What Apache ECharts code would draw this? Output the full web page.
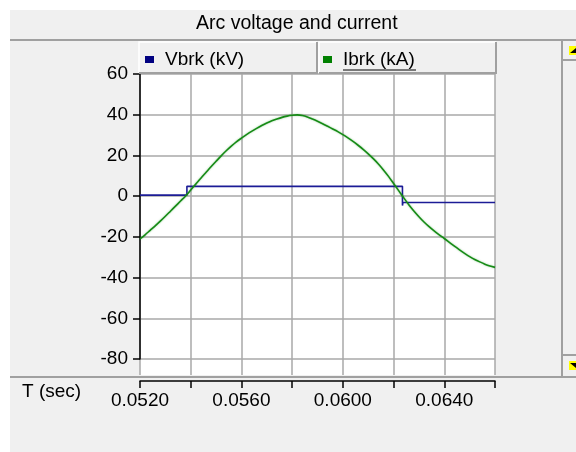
<!DOCTYPE html>
<html>
<head>
<meta charset="utf-8">
<script src="https://cdn.jsdelivr.net/npm/echarts@6/dist/echarts.min.js"></script>
<style>
  html, body { margin: 0; padding: 0; background: #fff; }
  #chart { width: 576px; height: 452px; }
</style>
</head>
<body>
<div id="chart"></div>
<script>
// 曲线数据
var ibrkStart = 0.052;
var ibrkStep = 0.0002;
var ibrkValues = [
  -21.0, -19.0, -16.8, -14.6, -12.3, -9.9, -7.4, -4.9, -2.4, 0.1,
  3.0, 5.9, 8.8, 11.6, 14.4, 17.1, 19.8, 22.3, 24.6, 26.7,
  28.5, 30.2, 31.8, 33.3, 34.7, 35.9, 37.0, 37.9, 38.7, 39.3,
  39.7, 39.9, 39.6, 38.9, 37.9, 36.8, 35.6, 34.3, 33.0, 31.7,
  30.2, 28.6, 26.9, 25.0, 23.0, 20.8, 18.4, 15.8, 12.9, 9.7,
  6.2, 2.7, -0.8, -4.2, -7.3, -10.1, -12.7, -15.0, -17.1, -19.0,
  -20.8, -22.7, -24.6, -26.4, -28.1, -29.7, -31.1, -32.3, -33.4, -34.3,
  -35.0
];
var vbrkTimes = [0.0520, 0.05385, 0.06235, 0.06237, 0.0660];
var vbrkValues = [0.5, 4.8, -4.6, -3.1, -3.1];
var seriesNames = ['Vbrk (kV)', 'Ibrk (kA)'];
var yTicks = { min: -80, max: 60, step: 20 };
var xTicks = { min: 0.052, max: 0.066, step: 0.002 };

var ibrkData = ibrkValues.map(function (v, i) {
  return [+(ibrkStart + i * ibrkStep).toFixed(4), v];
});
var vbrkData = vbrkTimes.map(function (t, i) {
  return [t, vbrkValues[i]];
});

var font = 'Liberation Sans, Arial, sans-serif';
var chart = echarts.init(document.getElementById('chart'));

var option = {
  backgroundColor: '#f0f0f0',
  animation: false,
  title: {
    text: 'Arc voltage and current',
    left: 196,
    top: 14,
    padding: 0,
    textStyle: { fontSize: 19.5, fontWeight: 'normal', color: '#000', fontFamily: font }
  },
  legend: [{
    data: [seriesNames[0]],
    left: 145, top: 50, padding: 0,
    icon: 'rect', itemWidth: 9, itemHeight: 7,
    selectedMode: false,
    textStyle: { fontSize: 19, color: '#000', fontFamily: font, padding: [0, 0, 0, 6] }
  }, {
    data: [seriesNames[1]],
    left: 323, top: 50, padding: 0,
    icon: 'rect', itemWidth: 9, itemHeight: 7,
    selectedMode: false,
    textStyle: { fontSize: 19, color: '#000', fontFamily: font, padding: [0, 0, 0, 6] }
  }],
  grid: [
    // 白色背景 + 竖直网格
    { left: 140, right: 81, top: 73, bottom: 77, show: true, backgroundColor: '#fff', borderWidth: 0 },
    // 数据区
    { left: 140, right: 81, top: 74, bottom: 93 }
  ],
  xAxis: [{
    gridIndex: 0, type: 'value',
    min: xTicks.min, max: xTicks.max, interval: xTicks.step,
    axisLine: { show: false }, axisTick: { show: false }, axisLabel: { show: false },
    splitLine: { show: true, lineStyle: { color: '#a8a8a8', width: 1.5 } }
  }, {
    gridIndex: 1, type: 'value',
    min: xTicks.min, max: xTicks.max, interval: xTicks.step,
    position: 'bottom',
    offset: 22,
    axisLine: { show: true, onZero: false, lineStyle: { color: '#000', width: 1.5 } },
    axisTick: { show: true, length: 7, lineStyle: { color: '#000', width: 1.5 } },
    axisLabel: {
      fontSize: 19, color: '#000', fontFamily: font, margin: 10,
      formatter: function (v) {
        return Math.round(v * 1000) % 4 === 0 ? v.toFixed(4) : '';
      }
    },
    splitLine: { show: false }
  }],
  yAxis: [{
    gridIndex: 0, type: 'value', show: false, min: 0, max: 1
  }, {
    gridIndex: 1, type: 'value',
    min: yTicks.min, max: yTicks.max, interval: yTicks.step,
    axisLine: { show: true, onZero: false, lineStyle: { color: '#000', width: 1.5 } },
    axisTick: { show: true, length: 7, lineStyle: { color: '#000', width: 1.5 } },
    axisLabel: { fontSize: 19, color: '#000', fontFamily: font, margin: 12 },
    splitLine: { show: true, lineStyle: { color: '#a8a8a8', width: 1.5 } }
  }],
  graphic: [
    // 左上白边
    { type: 'rect', shape: { x: 0, y: 0, width: 576, height: 10 }, style: { fill: '#fff' }, z: 1 },
    { type: 'rect', shape: { x: 0, y: 0, width: 10, height: 452 }, style: { fill: '#fff' }, z: 1 },
    // 分隔线
    { type: 'line', shape: { x1: 10, y1: 40, x2: 576, y2: 40 }, style: { stroke: '#a0a0a0', lineWidth: 2 }, z: 1 },
    { type: 'line', shape: { x1: 10, y1: 377, x2: 576, y2: 377 }, style: { stroke: '#a0a0a0', lineWidth: 2 }, z: 1 },
    // 图例框
    { type: 'rect', shape: { x: 139, y: 42, width: 178, height: 31 }, style: { fill: '#f0f0f0' }, z: 3 },
    { type: 'rect', shape: { x: 318, y: 42, width: 178, height: 31 }, style: { fill: '#f0f0f0' }, z: 3 },
    { type: 'polyline', shape: { points: [[139, 73], [139, 42], [317, 42]] }, style: { stroke: '#fff', lineWidth: 1.5, fill: null }, z: 3 },
    { type: 'polyline', shape: { points: [[139, 73], [317, 73], [317, 42]] }, style: { stroke: '#a0a0a0', lineWidth: 2, fill: null }, z: 3 },
    { type: 'polyline', shape: { points: [[319, 73], [319, 42], [496, 42]] }, style: { stroke: '#fff', lineWidth: 1.5, fill: null }, z: 3 },
    { type: 'polyline', shape: { points: [[319, 73], [496, 73], [496, 42]] }, style: { stroke: '#a0a0a0', lineWidth: 2, fill: null }, z: 3 },
    // Ibrk 下划线
    { type: 'line', shape: { x1: 343, y1: 70, x2: 416, y2: 70 }, style: { stroke: '#000', lineWidth: 1 }, z: 6 },
    // 滚动条
    { type: 'line', shape: { x1: 562, y1: 40, x2: 562, y2: 377 }, style: { stroke: '#a0a0a0', lineWidth: 2 }, z: 1 },
    { type: 'line', shape: { x1: 563, y1: 60, x2: 576, y2: 60 }, style: { stroke: '#a0a0a0', lineWidth: 2 }, z: 1 },
    { type: 'line', shape: { x1: 563, y1: 355, x2: 576, y2: 355 }, style: { stroke: '#a0a0a0', lineWidth: 2 }, z: 1 },
    { type: 'rect', shape: { x: 569, y: 46, width: 7, height: 9 }, style: { fill: '#ffff00' }, z: 1 },
    { type: 'polygon', shape: { points: [[570, 53], [576, 53], [576, 48]] }, style: { fill: '#000' }, z: 2 },
    { type: 'rect', shape: { x: 569, y: 361, width: 7, height: 9 }, style: { fill: '#ffff00' }, z: 1 },
    { type: 'polygon', shape: { points: [[570, 363], [576, 363], [576, 368]] }, style: { fill: '#000' }, z: 2 },
    // 横轴名称
    { type: 'text', left: 22, top: 382, style: { text: 'T (sec)', fontSize: 19, fontFamily: font, fill: '#000' }, z: 2 }
  ],
  series: [{
    name: seriesNames[0],
    type: 'line',
    xAxisIndex: 1, yAxisIndex: 1,
    data: vbrkData,
    step: 'end',
    showSymbol: false,
    color: '#000080',
    lineStyle: { color: '#1c1c96', width: 1.6 },
    z: 3
  }, {
    name: seriesNames[1],
    type: 'line',
    xAxisIndex: 1, yAxisIndex: 1,
    data: ibrkData,
    smooth: 0.3,
    showSymbol: false,
    color: '#008000',
    lineStyle: { color: '#168a16', width: 1.6, shadowColor: 'rgba(0,140,0,0.4)', shadowBlur: 2 },
    z: 4
  }]
};

chart.setOption(option);
</script>
</body>
</html>
